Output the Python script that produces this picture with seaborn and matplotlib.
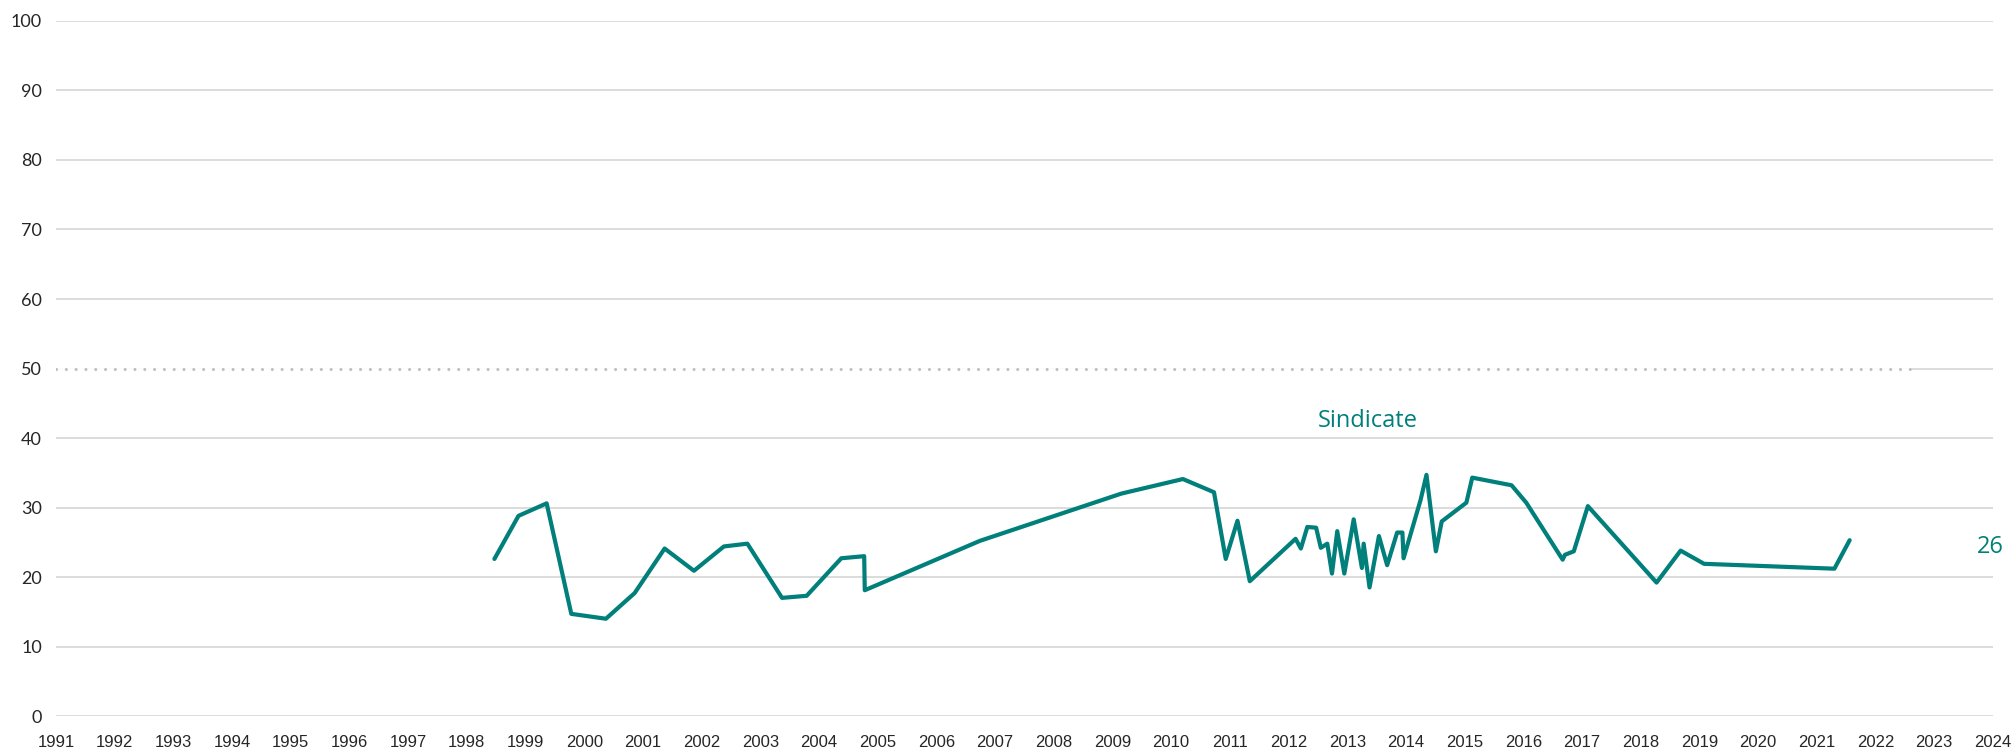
import matplotlib
matplotlib.use("Agg")
import matplotlib.pyplot as plt
import seaborn as sns
import pandas as pd

# Series (decimal year, value)
years = [1998.47, 1998.88, 1999.36, 1999.78, 2000.37, 2000.86, 2001.37, 2001.87, 2002.38, 2002.78,
         2003.37, 2003.79, 2004.38, 2004.77, 2004.78, 2006.74, 2009.15, 2010.20, 2010.73, 2010.93,
         2011.13, 2011.34, 2012.12, 2012.21, 2012.32, 2012.47, 2012.55, 2012.66, 2012.74, 2012.83,
         2012.95, 2013.11, 2013.25, 2013.28, 2013.38, 2013.54, 2013.68, 2013.85, 2013.94, 2013.96,
         2014.25, 2014.35, 2014.51, 2014.61, 2015.03, 2015.13, 2015.80, 2016.05, 2016.67, 2016.71,
         2016.86, 2017.10, 2018.27, 2018.68, 2019.08, 2021.30, 2021.56]
values = [22.6, 28.8, 30.6, 14.7, 14.0, 17.7, 24.1, 20.9, 24.4, 24.8,
          17.0, 17.3, 22.7, 23.0, 18.1, 25.2, 32.0, 34.1, 32.2, 22.6,
          28.1, 19.4, 25.5, 24.1, 27.2, 27.1, 24.2, 24.8, 20.5, 26.6,
          20.5, 28.3, 21.3, 24.8, 18.5, 25.9, 21.7, 26.4, 26.4, 22.7,
          31.1, 34.7, 23.7, 28.0, 30.7, 34.3, 33.2, 30.7, 22.5, 23.2,
          23.7, 30.2, 19.2, 23.8, 21.9, 21.2, 25.3]

series_name = "Sindicate"
last_label = "26"
x_ticks = list(range(1991, 2025))
y_ticks = list(range(0, 101, 10))
ref_level = 50
ref_end = 2022.6

teal = "#007F7B"
grid_col = "#D9D9D9"

df = pd.DataFrame({"year": years, "value": values})

sns.set_style("white")
fig = plt.figure(figsize=(20.13, 7.49), dpi=100)
ax = fig.add_axes([0.0278, 0.044, 0.9622, 0.928])

# grid
for y in y_ticks:
    ax.axhline(y, color=grid_col, lw=1.3, zorder=0)

# 50 % reference, dotted
ax.hlines(ref_level, x_ticks[0], ref_end, color="white", lw=2, zorder=1)
ax.hlines(ref_level, x_ticks[0], ref_end, color="#BDBDBD", lw=2.2,
          linestyles=[(0, (0.01, 3.2))], capstyle="round", zorder=2)

sns.lineplot(data=df, x="year", y="value", sort=False, color=teal,
             linewidth=3.0, ax=ax, zorder=3)

ax.text(2013.35, 42.4, series_name, color=teal, fontsize=17,
        family="Open Sans", ha="center", va="center")
ax.text(2023.95, 24.3, last_label, color=teal, fontsize=17,
        family="Open Sans", ha="center", va="center", clip_on=False)

ax.set_xlim(x_ticks[0], x_ticks[-1])
ax.set_ylim(0, 100)
ax.set_xticks(x_ticks)
ax.set_yticks(y_ticks)
ax.set_xticklabels([str(t) for t in x_ticks], family="Liberation Sans", fontsize=12)
ax.set_yticklabels([str(t) for t in y_ticks], family="Lato", fontsize=13)
ax.tick_params(axis="x", length=0, pad=14)
ax.tick_params(axis="y", length=0, pad=10)
ax.set_xlabel("")
ax.set_ylabel("")
for s in ax.spines.values():
    s.set_visible(False)

fig.savefig("out.png", dpi=100)
